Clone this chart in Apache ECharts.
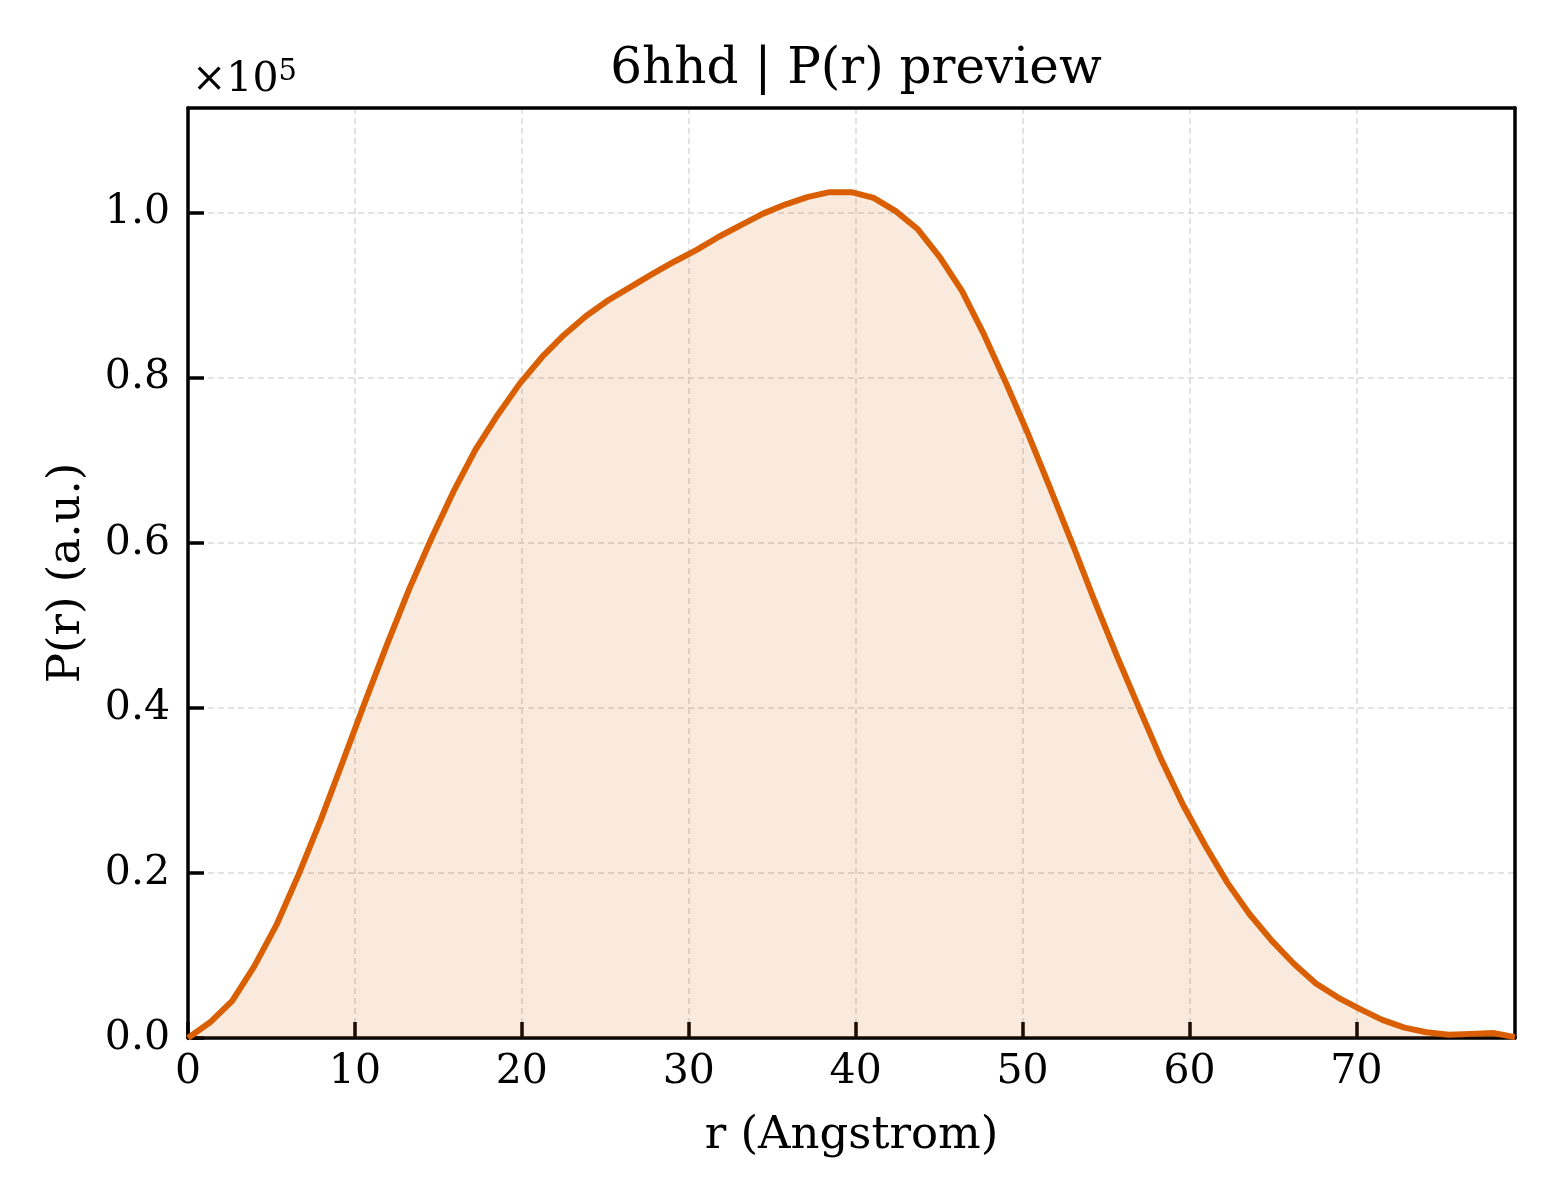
<html>
<head>
<meta charset="utf-8">
<script src="https://cdn.jsdelivr.net/npm/echarts@6/dist/echarts.min.js"></script>
<style>
  html, body, #main { width: 100%; height: 100%; margin: 0; background: #fff; }
</style>
</head>
<body>
<div id="main"></div>
<script>
// r grid (Angstrom): 61 points, step 1.325
var rStep = 1.325;
var rCount = 61;
// P(r) in units of 1e5
var prValues = [
  0.000, 0.019, 0.045, 0.087, 0.137, 0.198, 0.264, 0.335, 0.407, 0.477,
  0.544, 0.605, 0.662, 0.713, 0.755, 0.793, 0.825, 0.852, 0.875, 0.894,
  0.910, 0.926, 0.941, 0.955, 0.971, 0.985, 0.999, 1.010, 1.019, 1.025,
  1.025, 1.018, 1.002, 0.980, 0.946, 0.905, 0.852, 0.793, 0.731, 0.665,
  0.598, 0.529, 0.463, 0.400, 0.338, 0.282, 0.233, 0.188, 0.150, 0.118,
  0.090, 0.066, 0.049, 0.035, 0.022, 0.0125, 0.007, 0.004, 0.005, 0.006,
  0.001
];
var xTicks = [0, 10, 20, 30, 40, 50, 60, 70];
var yTicks = [0.0, 0.2, 0.4, 0.6, 0.8, 1.0];

var rValues = [];
for (var i = 0; i < rCount; i++) {
  rValues.push(+(i * rStep).toFixed(3));
}
var seriesData = rValues.map(function (r, i) { return [r, prValues[i]]; });

var FONT = 'DejaVu Serif';
var chart = echarts.init(document.getElementById('main'));

chart.setOption({
  animation: false,
  backgroundColor: '#fff',
  textStyle: { fontFamily: FONT },
  title: {
    text: '6hhd | P(r) preview',
    left: 851, top: 40,
    textAlign: 'center',
    textStyle: { fontFamily: FONT, fontSize: 50, fontWeight: 'normal', color: '#000' }
  },
  graphic: [{
    type: 'text',
    left: 192, top: 58,
    z: 10,
    style: {
      text: '×10{sup|5}',
      font: '41px "DejaVu Serif"',
      fill: '#000',
      rich: { sup: { fontSize: 29, verticalAlign: 'top', padding: [0, 0, 16, 0], fontFamily: FONT } }
    }
  }],
  grid: {
    left: 188, top: 108, width: 1327, height: 930
  },
  xAxis: [{
    type: 'value',
    min: 0, max: 79.5, interval: 10,
    name: 'r (Angstrom)',
    nameLocation: 'middle',
    nameGap: 76,
    nameTextStyle: { fontFamily: FONT, fontSize: 45, color: '#000' },
    axisLine: { show: true, onZero: false, lineStyle: { color: '#000', width: 3.5 } },
    axisTick: { show: true, inside: true, length: 16, lineStyle: { color: '#000', width: 3.5 } },
    axisLabel: {
      fontFamily: FONT, fontSize: 41, color: '#000', margin: 14,
      showMaxLabel: false,
      formatter: function (v) { return xTicks.indexOf(v) >= 0 ? String(v) : ''; }
    },
    splitLine: { show: true, lineStyle: { color: '#d9d9d9', width: 1.5, type: [6, 4] } }
  }, {
    type: 'value',
    position: 'top',
    min: 0, max: 79.5,
    axisLine: { show: true, onZero: false, lineStyle: { color: '#000', width: 3.5 } },
    axisTick: { show: false },
    axisLabel: { show: false },
    splitLine: { show: false }
  }],
  yAxis: [{
    type: 'value',
    min: 0, max: 1.127, interval: 0.2,
    name: 'P(r) (a.u.)',
    nameLocation: 'middle',
    nameGap: 98,
    nameRotate: 90,
    nameTextStyle: { fontFamily: FONT, fontSize: 45, color: '#000' },
    axisLine: { show: true, onZero: false, lineStyle: { color: '#000', width: 3.5 } },
    axisTick: { show: true, inside: true, length: 16, lineStyle: { color: '#000', width: 3.5 } },
    axisLabel: {
      fontFamily: FONT, fontSize: 41, color: '#000', margin: 18,
      showMaxLabel: false,
      formatter: function (v) {
        for (var k = 0; k < yTicks.length; k++) {
          if (Math.abs(yTicks[k] - v) < 1e-6) return yTicks[k].toFixed(1);
        }
        return '';
      }
    },
    splitLine: { show: false }
  }, {
    type: 'value',
    position: 'right',
    min: 0, max: 1.127, interval: 0.2,
    axisLine: { show: true, onZero: false, lineStyle: { color: '#000', width: 3.5 } },
    axisTick: { show: false },
    axisLabel: { show: false },
    splitLine: { show: true, lineStyle: { color: '#d9d9d9', width: 1.5, type: [6, 4] } }
  }],
  series: [{
    type: 'line',
    data: seriesData,
    showSymbol: false,
    smooth: false,
    clip: true,
    lineStyle: { color: '#d95f02', width: 6 },
    itemStyle: { color: '#d95f02' },
    areaStyle: { color: '#d95f02', opacity: 0.13 }
  }]
});
</script>
</body>
</html>
